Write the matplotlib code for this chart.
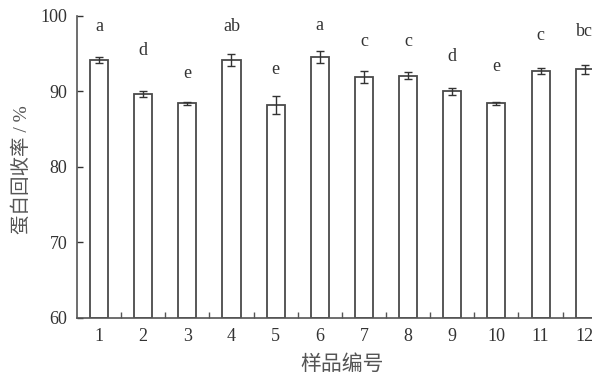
import matplotlib
matplotlib.use("Agg")
import matplotlib.pyplot as plt
import numpy as np

# sample numbers, recovery means, error bars, significance letters
samples = [1, 2, 3, 4, 5, 6, 7, 8, 9, 10, 11, 12]
recovery = [94.1, 89.7, 88.4, 94.2, 88.2, 94.5, 91.9, 92.1, 90.0, 88.4, 92.7, 92.9]
err = [0.4, 0.4, 0.15, 0.8, 1.2, 0.8, 0.8, 0.5, 0.45, 0.15, 0.4, 0.6]
letters = ["a", "d", "e", "ab", "e", "a", "c", "c", "d", "e", "c", "bc"]
letter_y = [98.6, 95.4, 92.4, 98.6, 92.9, 98.7, 96.6, 96.6, 94.6, 93.3, 97.4, 97.9]

plt.rcParams['font.family'] = ['Liberation Serif', 'Noto Sans CJK SC']

fig = plt.figure(figsize=(5.92, 3.78), dpi=100)
ax = fig.add_axes([0.130, 0.159, 0.895, 0.799])

edge = "#4a4a4a"
ax.bar(samples, [r - 60 for r in recovery], bottom=60, width=0.41,
       color="white", edgecolor=edge, linewidth=1.3, zorder=2)
ax.errorbar(samples, recovery, yerr=err, fmt="none", ecolor="#333333",
            elinewidth=1.0, capsize=3.2, capthick=1.0, zorder=3)

for x, y, s in zip(samples, letter_y, letters):
    ax.text(x, y, s, ha="center", va="center", fontsize=13, color="#333333")

ax.set_xlim(0.5, 12.5)
ax.set_ylim(60, 100)
ax.set_yticks([60, 70, 80, 90, 100])
ax.set_xticks(samples)
ax.set_xticks(np.arange(1.5, 12.5, 1.0), minor=True)

ax.tick_params(axis="x", which="major", length=0, pad=7, labelsize=13, colors="#333333")
ax.tick_params(axis="x", which="minor", direction="in", length=4, width=1.0, color="#555555")
ax.tick_params(axis="y", direction="in", length=4, width=1.0, pad=7, labelsize=13,
               colors="#333333")

for side in ["top", "right"]:
    ax.spines[side].set_visible(False)
for side in ["left", "bottom"]:
    ax.spines[side].set_color("#555555")
    ax.spines[side].set_linewidth(1.2)

ax.set_ylabel("蛋白回收率 / %", fontsize=14, color="#555555", labelpad=4)
ax.yaxis.set_label_coords(-0.087, 0.49)
ax.set_xlabel("样品编号", fontsize=15, color="#555555", labelpad=8)

fig.savefig("out.png", dpi=100)
